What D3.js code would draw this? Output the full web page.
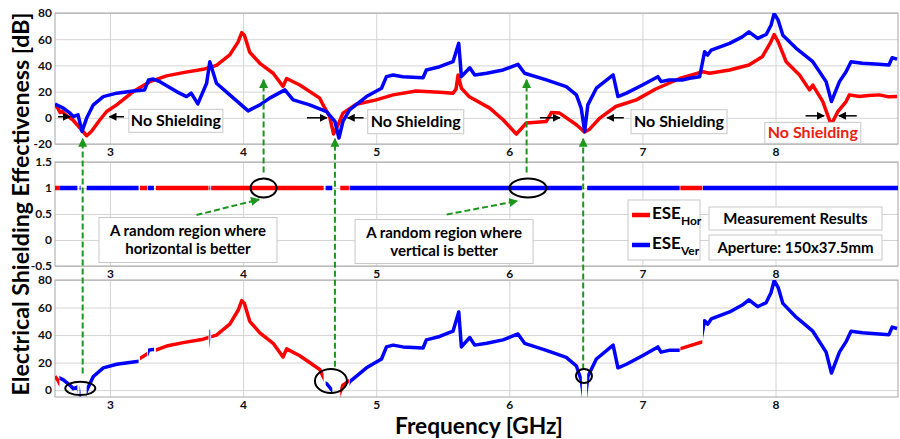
<!DOCTYPE html>
<html>
<head>
<meta charset="utf-8">
<script src="https://cdn.jsdelivr.net/npm/d3@7"></script>
<style>
  body { margin: 0; background: #fff; }
  text { font-family: Lato, "Open Sans", sans-serif; font-weight: bold; }
</style>
</head>
<body>
<div id="chart-area"></div>
<script>
// ---- data ----
const horFreq = [2.587, 2.61, 2.625, 2.64, 2.67, 2.72, 2.775, 2.825, 2.86, 2.925, 2.975, 3.05, 3.175, 3.30, 3.425, 3.55, 3.70, 3.80, 3.90, 3.963, 3.99, 4.01, 4.05, 4.126, 4.226, 4.30, 4.327, 4.426, 4.576, 4.59, 4.60, 4.65, 4.68, 4.714, 4.75, 4.85, 5.0, 5.127, 5.30, 5.477, 5.577, 5.60, 5.615, 5.64, 5.70, 5.853, 5.953, 6.053, 6.128, 6.278, 6.316, 6.378, 6.504, 6.566, 6.60, 6.68, 6.80, 6.954, 7.10, 7.28, 7.455, 7.505, 7.655, 7.80, 7.90, 7.965, 7.99, 8.02, 8.08, 8.18, 8.255, 8.28, 8.355, 8.418, 8.468, 8.53, 8.555, 8.63, 8.70, 8.78, 8.85, 8.913];
const horESE  = [10, 7, 4, 5, 2, -1.5, -7.8, -13.7, -10.4, -1.5, 4.8, 9.9, 20, 27.6, 32, 34.5, 37, 40, 48, 58, 65, 63, 50, 41.6, 34, 24, 30, 25, 15, 12, 10, 1, -12.4, -5.3, 3.6, 10.4, 13.7, 17.5, 20.5, 19.5, 18.8, 22, 32.7, 22.6, 16, 7.4, -1.5, -12.4, -4, -2.8, 4, 3.6, -5.3, -10.9, -9, -0.2, 8.6, 13.7, 22, 30, 35.2, 34, 36.5, 40.3, 46.6, 58, 63.6, 58, 42.8, 32.7, 21.3, 25, 12.4, -5.3, 4.8, 12.4, 17.5, 16.2, 17, 17.5, 16, 16.2];

const verFreq = [2.587, 2.65, 2.70, 2.725, 2.76, 2.79, 2.825, 2.875, 2.95, 3.05, 3.175, 3.26, 3.29, 3.325, 3.375, 3.50, 3.575, 3.61, 3.66, 3.726, 3.75, 3.80, 3.90, 4.038, 4.126, 4.20, 4.314, 4.376, 4.50, 4.627, 4.69, 4.72, 4.75, 4.80, 4.927, 5.04, 5.077, 5.127, 5.20, 5.352, 5.377, 5.477, 5.577, 5.62, 5.64, 5.703, 5.74, 5.83, 5.953, 6.065, 6.115, 6.278, 6.428, 6.504, 6.54, 6.566, 6.59, 6.654, 6.78, 6.816, 6.88, 7.0, 7.116, 7.14, 7.20, 7.30, 7.355, 7.43, 7.467, 7.49, 7.517, 7.655, 7.75, 7.80, 7.866, 7.93, 7.966, 7.99, 8.02, 8.055, 8.155, 8.28, 8.38, 8.42, 8.48, 8.53, 8.567, 8.652, 8.778, 8.852, 8.876, 8.913];
const verESE  = [10.4, 7.4, 3.5, 1, 2.3, -10.4, -0.2, 9.9, 16.2, 18.8, 20.5, 21.3, 28.9, 29.6, 27.6, 20, 16.2, 18.8, 10.6, 26.4, 42.8, 26.4, 17.5, 5.3, 9.9, 15, 21.3, 13.7, 9.9, 4.8, -2.8, -15.4, -2.8, 6, 16.2, 22.6, 31.4, 32.7, 31.4, 30.6, 36.5, 39, 42.8, 56.8, 31.4, 38.2, 32.7, 34, 36.5, 40.8, 34, 28.9, 23.8, 17.5, 7.4, -10.4, 9.9, 22.6, 32.7, 16.2, 18.8, 25, 31.4, 27.6, 28.9, 28.9, 30.2, 31.4, 50.4, 47.9, 51.7, 56.8, 61.8, 65.6, 60.6, 63.6, 70.7, 79.6, 74.5, 63, 53, 42.8, 27.6, 12.4, 27.6, 35.2, 42.8, 41.6, 40.8, 40.3, 45.8, 44.8];

// which polarisation is better (middle panel), [from, to, series]
const betterStart = [2.587, 2.62, 2.772, 2.825, 3.225, 3.285, 3.345, 3.747, 3.76, 4.62, 4.73, 4.80, 6.585, 7.285, 7.455];
const betterEnd   = [2.62, 2.755, 2.779, 3.215, 3.28, 3.33, 3.74, 3.753, 4.605, 4.67, 4.795, 6.545, 7.28, 7.45, 8.92];
const betterWho   = ['hor', 'ver', 'ver', 'ver', 'hor', 'ver', 'hor', 'ver', 'hor', 'ver', 'hor', 'ver', 'ver', 'hor', 'ver'];

const xTicks = [3, 4, 5, 6, 7, 8];
const topTicks = [-20, 0, 20, 40, 60, 80];
const midTicks = [-0.5, 0, 0.5, 1, 1.5];
const midTickLabels = ['-0.5', '0', '0.5', '1', '1.5'];
const botTicks = [0, 20, 40, 60, 80];

const RED = '#ff0000', BLUE = '#0000ff', GREEN = '#1c961c';

const width = 900, height = 439;

const svg = d3.select('#chart-area')
    .append('svg')
    .attr('width', width)
    .attr('height', height);

const x = d3.scaleLinear().domain([2.587, 8.92]).range([55, 898]);
const yTop = d3.scaleLinear().domain([-20, 80]).range([144, 13]);
const yMid = d3.scaleLinear().domain([-0.5, 1.5]).range([266, 162]);
const yBot = d3.scaleLinear().domain([-5, 80]).range([397, 280]);

const hor = d3.zip(horFreq, horESE);
const ver = d3.zip(verFreq, verESE);
const regions = betterStart.map((s, i) => ({from: s, to: betterEnd[i], who: betterWho[i]}));

const defs = svg.append('defs');

function marker(id, color, size) {
    defs.append('marker')
        .attr('id', id)
        .attr('viewBox', '0 0 10 10')
        .attr('refX', 9).attr('refY', 5)
        .attr('markerWidth', size).attr('markerHeight', size)
        .attr('markerUnits', 'userSpaceOnUse')
        .attr('orient', 'auto')
        .append('path')
        .attr('d', 'M0,0 L10,5 L0,10 z')
        .attr('fill', color);
}
marker('arrBlack', '#000', 8);
marker('arrGreen', GREEN, 9);

// ---- panel frames, grids, axes ----
function panel(id, y, ticks, labels) {
    const [y0, y1] = y.range();
    const g = svg.append('g');

    defs.append('clipPath').attr('id', id)
        .append('rect')
        .attr('x', x.range()[0]).attr('y', y1)
        .attr('width', x.range()[1] - x.range()[0]).attr('height', y0 - y1);

    const ya = g.append('g')
        .attr('transform', `translate(${x.range()[0]},0)`)
        .call(d3.axisLeft(y).tickValues(ticks)
            .tickFormat((d, i) => labels ? labels[i] : d)
            .tickSize(-(x.range()[1] - x.range()[0])).tickPadding(3));
    const xa = g.append('g')
        .attr('transform', `translate(0,${y0})`)
        .call(d3.axisBottom(x).tickValues(xTicks).tickFormat(d3.format('d'))
            .tickSize(-(y0 - y1)).tickPadding(3));

    [ya, xa].forEach(a => {
        a.select('.domain').remove();
        a.selectAll('.tick line').attr('stroke', '#d4d4d4');
        a.selectAll('.tick text').attr('fill', '#111')
            .style('font-size', '12px').style('font-weight', 'bold');
    });

    g.append('rect')
        .attr('x', x.range()[0]).attr('y', y1)
        .attr('width', x.range()[1] - x.range()[0]).attr('height', y0 - y1)
        .attr('fill', 'none').attr('stroke', '#a6a6a6');
    return g;
}

panel('clipTop', yTop, topTicks);
panel('clipMid', yMid, midTicks, midTickLabels);
panel('clipBot', yBot, botTicks);

// ---- top panel: both polarisations ----
const lineTop = d3.line().x(d => x(d[0])).y(d => yTop(d[1]));
const topG = svg.append('g').attr('clip-path', 'url(#clipTop)');
topG.append('path').datum(hor)
    .attr('d', lineTop).attr('fill', 'none')
    .attr('stroke', RED).attr('stroke-width', 3.5).attr('stroke-linejoin', 'round');
topG.append('path').datum(ver)
    .attr('d', lineTop).attr('fill', 'none')
    .attr('stroke', BLUE).attr('stroke-width', 3.5).attr('stroke-linejoin', 'round');

// ---- middle panel: better polarisation flag ----
svg.append('g').attr('clip-path', 'url(#clipMid)')
    .selectAll('line').data(regions).enter()
    .append('line')
    .attr('x1', d => x(d.from)).attr('x2', d => x(d.to))
    .attr('y1', yMid(1)).attr('y2', yMid(1))
    .attr('stroke', d => d.who === 'hor' ? RED : BLUE)
    .attr('stroke-width', 4.5);

// ---- bottom panel: best of the two ----
const lineBot = d3.line().x(d => x(d[0])).y(d => yBot(d[1]));
const botG = svg.append('g').attr('clip-path', 'url(#clipBot)');
regions.forEach((r, i) => {
    defs.append('clipPath').attr('id', 'reg' + i)
        .append('rect')
        .attr('x', x(r.from)).attr('y', yBot.range()[1])
        .attr('width', x(r.to) - x(r.from))
        .attr('height', yBot.range()[0] - yBot.range()[1]);
    botG.append('path').datum(r.who === 'hor' ? hor : ver)
        .attr('clip-path', `url(#reg${i})`)
        .attr('d', lineBot).attr('fill', 'none')
        .attr('stroke', r.who === 'hor' ? RED : BLUE)
        .attr('stroke-width', 3.5).attr('stroke-linejoin', 'round');
});

// ---- annotations ----
const ann = svg.append('g');

function box(cx, cy, w, h, lines, color, size) {
    ann.append('rect')
        .attr('x', cx - w / 2).attr('y', cy - h / 2)
        .attr('width', w).attr('height', h)
        .attr('fill', '#fff').attr('stroke', '#c8c8c8');
    const lh = size + 3;
    lines.forEach((t, i) => {
        ann.append('text')
            .attr('x', cx).attr('y', cy + (i - (lines.length - 1) / 2) * lh)
            .attr('dy', '0.35em')
            .attr('text-anchor', 'middle')
            .attr('fill', color)
            .style('font-size', size + 'px')
            .text(t);
    });
}

// black arrows marking the no-shielding dips
const arrowFrom = [[2.61, 0.8], [3.105, 0.8], [4.48, 0], [4.905, 0], [6.23, 0], [6.86, 0], [8.225, 1.5], [8.61, 1.5]];
const arrowTo   = [[2.70, 0.8], [2.995, 0.8], [4.63, 0], [4.785, 0], [6.38, 0], [6.735, 0], [8.365, 1.5], [8.475, 1.5]];
arrowFrom.forEach((a, i) => {
    ann.append('line')
        .attr('x1', x(a[0])).attr('y1', yTop(a[1]))
        .attr('x2', x(arrowTo[i][0])).attr('y2', yTop(arrowTo[i][1]))
        .attr('stroke', '#000').attr('stroke-width', 1.5)
        .attr('marker-end', 'url(#arrBlack)');
});

box(x(3.495), yTop(-2.3), 94, 23, ['No Shielding'], '#000', 16);
box(x(5.297), yTop(-3), 96, 24, ['No Shielding'], '#000', 16);
box(x(7.275), yTop(-3), 96, 24, ['No Shielding'], '#000', 16);
box(x(8.28), yTop(-11.5), 96, 21, ['No Shielding'], '#e8210f', 16);

// green dashed arrows
const greenDash = (x1, y1, x2, y2) => ann.append('line')
    .attr('x1', x1).attr('y1', y1).attr('x2', x2).attr('y2', y2)
    .attr('stroke', GREEN).attr('stroke-width', 2)
    .attr('stroke-dasharray', '6,3')
    .attr('marker-end', 'url(#arrGreen)');

greenDash(x(2.795), yBot(12), x(2.795), yTop(-16));
greenDash(x(4.69), yBot(17), x(4.69), yTop(-16));
greenDash(x(6.555), yBot(15), x(6.555), yTop(-16));
greenDash(x(4.154), yMid(1.3), x(4.154), yTop(29));
greenDash(x(6.13), yMid(1.3), x(6.13), yTop(29));
greenDash(x(3.65), yMid(0.48), x(4.12), yMid(0.78));
greenDash(x(5.53), yMid(0.49), x(6.06), yMid(0.75));

// circles
const ring = (cx, cy, rx, ry) => ann.append('ellipse')
    .attr('cx', cx).attr('cy', cy).attr('rx', rx).attr('ry', ry)
    .attr('fill', 'none').attr('stroke', '#000').attr('stroke-width', 2);
ring(x(4.154), yMid(1), 13, 9.5);
ring(x(6.14), yMid(1), 18.5, 9.5);
ring(x(2.777), yBot(1.3), 15, 6.7);
ring(x(4.66), yBot(6.6), 16, 12);
ring(x(6.561), yBot(10.3), 8, 7);

box(x(3.586), yMid(0), 178, 45, ['A random region where', 'horizontal is better'], '#000', 15);
box(x(5.51), yMid(-0.03), 178, 44, ['A random region where', 'vertical is better'], '#000', 15);

// legend
const leg = svg.append('g').attr('transform', 'translate(628,200)');
leg.append('rect').attr('width', 72).attr('height', 60)
    .attr('fill', '#fff').attr('stroke', '#c8c8c8');
[['Hor', RED, 15], ['Ver', BLUE, 45]].forEach(([sub, c, yy]) => {
    leg.append('line').attr('x1', 4).attr('x2', 22).attr('y1', yy).attr('y2', yy)
        .attr('stroke', c).attr('stroke-width', 4.5);
    const t = leg.append('text').attr('x', 24).attr('y', yy + 4)
        .attr('fill', '#000').style('font-size', '17px');
    t.append('tspan').text('ESE');
    t.append('tspan').attr('dy', 6).style('font-size', '12px').text(sub);
});

box(795.5, 218.5, 173, 23, ['Measurement Results'], '#000', 15);
box(795.5, 247.5, 173, 25, ['Aperture: 150x37.5mm'], '#000', 15);

// axis titles
svg.append('text')
    .attr('transform', 'translate(29,204) rotate(-90)')
    .attr('text-anchor', 'middle')
    .attr('textLength', 383).attr('lengthAdjust', 'spacingAndGlyphs')
    .style('font-size', '22px')
    .text('Electrical Shielding Effectiveness [dB]');

svg.append('text')
    .attr('x', 479).attr('y', 434)
    .attr('text-anchor', 'middle')
    .attr('textLength', 168).attr('lengthAdjust', 'spacingAndGlyphs')
    .style('font-size', '22px')
    .text('Frequency [GHz]');
</script>
</body>
</html>
